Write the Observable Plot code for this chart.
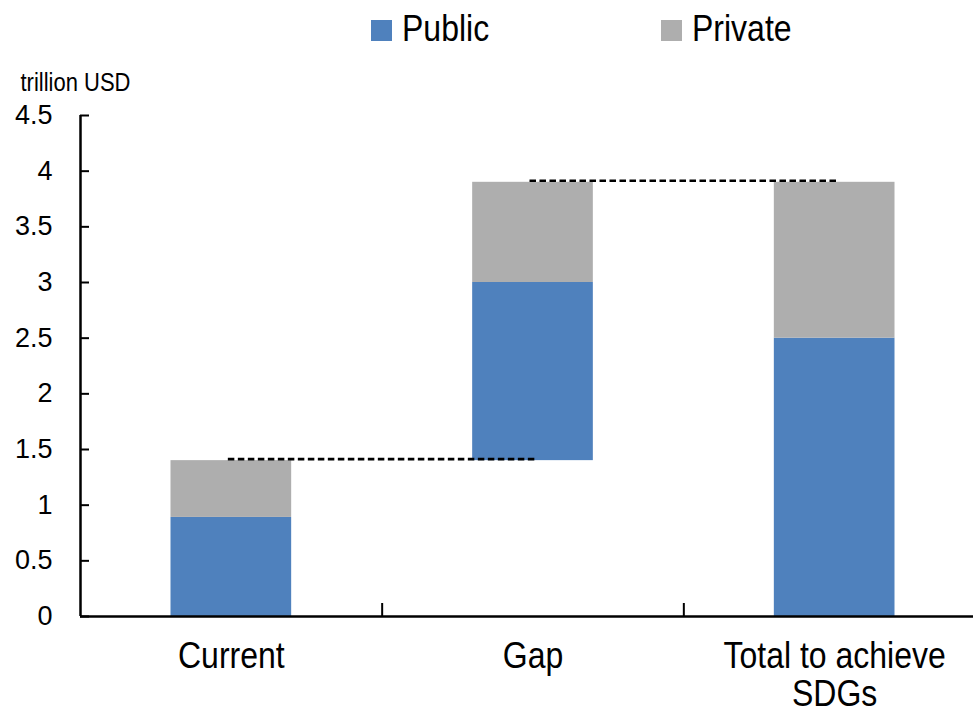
<!DOCTYPE html>
<html><head><meta charset="utf-8">
<script src="https://cdn.jsdelivr.net/npm/d3@7"></script>
<script src="https://cdn.jsdelivr.net/npm/@observablehq/plot@0.6"></script>
<style>
html,body{margin:0;padding:0;overflow:hidden;background:#fff;}
body{font-family:"Liberation Sans",Arial,sans-serif;width:973px;height:715px;color:#000;}
#legend{position:relative;height:50px;width:973px;}
.item{position:absolute;top:0;height:50px;}
.sw{position:absolute;left:0;top:20px;width:21px;height:21px;}
.lab{position:absolute;left:31px;top:13.6px;font-size:32px;line-height:32px;white-space:nowrap;transform:scaleY(1.13);transform-origin:0 27px;}
#chart{width:990px;}
</style></head><body>
<div id="legend"></div>
<div id="chart"></div>
<script>
// ---- data ----
const categories = ["Current", "Gap", "Total to achieve\nSDGs"];
const publicBase = [0, 1.4, 0];
const publicValues = [0.89, 1.6, 2.5];
const privateValues = [0.51, 0.9, 1.4];
const seriesNames = ["Public", "Private"];
const seriesColors = ["#4F81BD", "#AEAEAE"];
const yTicks = [0, 0.5, 1, 1.5, 2, 2.5, 3, 3.5, 4, 4.5];
const yUnit = "trillion USD";

// ---- derived tables ----
const rows = categories.map((c, i) => ({
  i, c,
  p0: publicBase[i],
  p1: publicBase[i] + publicValues[i],
  q1: publicBase[i] + publicValues[i] + privateValues[i]
}));
const connectors = [0, 1].map(i => ({from: i, to: i + 1, level: rows[i].q1}));
const xDomain = [-0.5, categories.length - 0.5];
const boundaries = d3.range(categories.length).map(i => i + 0.5);

// ---- legend ----
const legend = document.getElementById("legend");
const legendLeft = [371, 661];
seriesNames.forEach((name, k) => {
  const item = document.createElement("div");
  item.className = "item";
  item.style.left = legendLeft[k] + "px";
  const sw = document.createElement("div");
  sw.className = "sw";
  sw.style.background = seriesColors[k];
  const lab = document.createElement("span");
  lab.className = "lab";
  lab.textContent = name;
  item.appendChild(sw); item.appendChild(lab);
  legend.appendChild(item);
});

// ---- chart ----
const barHalf = 0.2;
const chart = Plot.plot({
  width: 990, height: 665,
  marginLeft: 80, marginRight: 5, marginTop: 65, marginBottom: 99,
  style: {fontFamily: '"Liberation Sans", Arial, sans-serif', background: "transparent", color: "#000", overflow: "visible"},
  x: {type: "linear", domain: xDomain, label: null},
  y: {domain: [0, 4.5], label: null},
  marks: [
    Plot.rect(rows, {x1: d => d.i - barHalf, x2: d => d.i + barHalf, y1: "p0", y2: "p1", fill: seriesColors[0]}),
    Plot.rect(rows, {x1: d => d.i - barHalf, x2: d => d.i + barHalf, y1: "p1", y2: "q1", fill: seriesColors[1]}),
    Plot.ruleY(connectors, {y: "level", x1: "from", x2: "to", stroke: "#000", strokeWidth: 2.6, strokeDasharray: "6.5,3.5", dy: -1.5, insetLeft: -3, insetRight: -3}),
    Plot.ruleX([xDomain[0]], {stroke: "#000", strokeWidth: 2.5}),
    Plot.ruleY([0], {stroke: "#000", strokeWidth: 2.5}),
    Plot.axisY({ticks: yTicks, tickFormat: d => String(d), tickSize: 9, dx: 9, tickPadding: 28, fontSize: 27, strokeWidth: 2, label: null}),
    Plot.axisX({ticks: boundaries, tickSize: 13, dy: -13, tickFormat: () => "", strokeWidth: 2, label: null}),
    Plot.text(rows, {x: "i", y: () => 0, text: "c", lineAnchor: "top", dy: 24, fontSize: 32, lineHeight: 1.01, fill: "#000"}),
    Plot.text([yUnit], {frameAnchor: "top-left", dx: -60, dy: -25, textAnchor: "start", lineAnchor: "bottom", fontSize: 22, fill: "#000"})
  ]
});
document.getElementById("chart").appendChild(chart);

// vertical stretch of text as in the reference rendering
const stretchMap = new Map(categories.map(c => [c.replace(/\n/g, ""), 1.18]));
stretchMap.set(yUnit, 1.2);
chart.querySelectorAll("text").forEach(t => {
  const s = stretchMap.get(t.textContent);
  if (!s) return;
  const tr = t.getAttribute("transform") || "";
  t.setAttribute("transform", tr + ` scale(1,${s})`);
});
</script>
</body></html>
